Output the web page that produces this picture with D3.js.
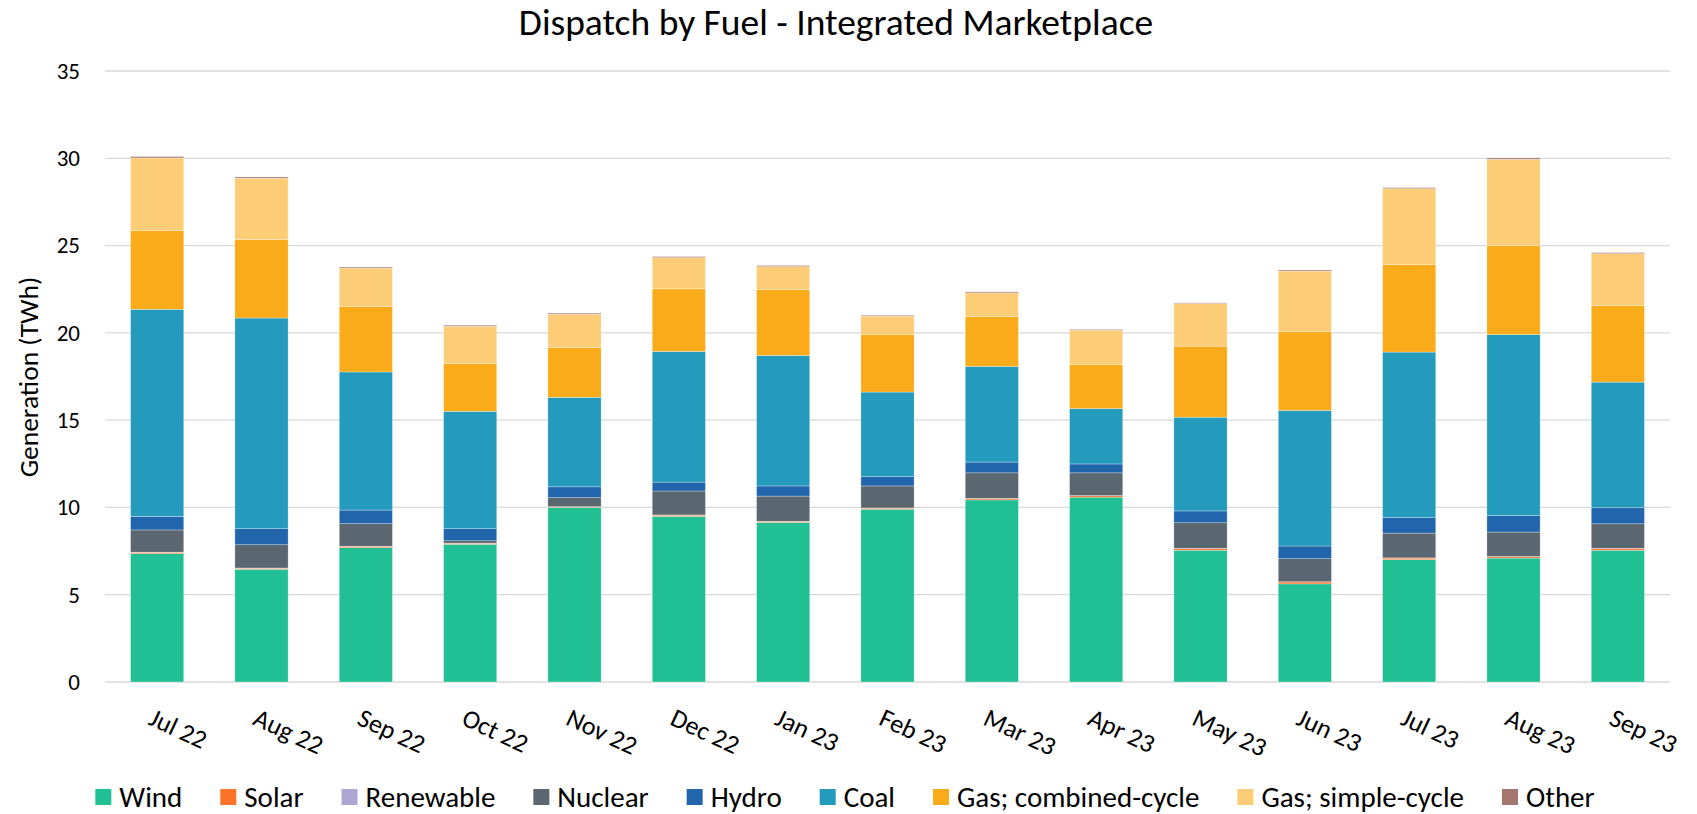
<!DOCTYPE html>
<html>
<head>
<meta charset="utf-8">
<script src="https://cdn.jsdelivr.net/npm/d3@7"></script>
<style>
  body { margin: 0; background: #fff; }
  svg { display: block; font-family: Carlito, Calibri, Lato, sans-serif; }
</style>
</head>
<body>
<svg width="1697" height="814"></svg>
<script>
const months = ["Jul 22", "Aug 22", "Sep 22", "Oct 22", "Nov 22", "Dec 22", "Jan 23",
  "Feb 23", "Mar 23", "Apr 23", "May 23", "Jun 23", "Jul 23", "Aug 23", "Sep 23"];

// TWh per month, bottom to top of the stack
const wind      = [7.35, 6.46, 7.69, 7.89, 10.0, 9.49, 9.14, 9.90, 10.43, 10.59, 7.55, 5.62, 7.01, 7.10, 7.55];
const solar     = [0.08, 0.06, 0.08, 0.06, 0.03, 0.07, 0.06, 0.06, 0.08, 0.08, 0.10, 0.11, 0.09, 0.08, 0.10];
const renewable = [0.01, 0.01, 0.01, 0.01, 0.01, 0.01, 0.01, 0.01, 0.01, 0.01, 0.01, 0.01, 0.01, 0.01, 0.01];
const nuclear   = [1.27, 1.33, 1.29, 0.13, 0.52, 1.37, 1.44, 1.26, 1.46, 1.30, 1.46, 1.32, 1.42, 1.40, 1.40];
const hydro     = [0.78, 0.92, 0.78, 0.69, 0.62, 0.51, 0.58, 0.53, 0.62, 0.51, 0.68, 0.73, 0.88, 0.94, 0.92];
const coal      = [11.86, 12.07, 7.91, 6.73, 5.13, 7.49, 7.48, 4.85, 5.48, 3.17, 5.37, 7.77, 9.49, 10.37, 7.20];
const gasCC     = [4.50, 4.50, 3.76, 2.74, 2.84, 3.58, 3.78, 3.31, 2.86, 2.54, 4.07, 4.50, 5.01, 5.09, 4.39];
const gasSC     = [4.17, 3.51, 2.19, 2.13, 1.92, 1.79, 1.31, 1.04, 1.35, 1.96, 2.44, 3.48, 4.35, 4.95, 2.97];
const other     = [0.08, 0.07, 0.06, 0.06, 0.06, 0.06, 0.06, 0.05, 0.06, 0.04, 0.04, 0.06, 0.06, 0.08, 0.06];

const seriesNames = ["Wind", "Solar", "Renewable", "Nuclear", "Hydro", "Coal",
  "Gas; combined-cycle", "Gas; simple-cycle", "Other"];
const seriesValues = [wind, solar, renewable, nuclear, hydro, coal, gasCC, gasSC, other];
const seriesColors = ["#20c094", "#fb7428", "#ada6d2", "#5a6670", "#2166ac", "#249abc",
  "#faab19", "#fdcc76", "#a57570"];
const yTicks = [0, 5, 10, 15, 20, 25, 30, 35];

const width = 1697;
const height = 814;
const margin = { top: 71, right: 27, bottom: 132, left: 105 };

const svg = d3.select("svg");

// table the stack wants: one row per month
const rows = months.map((m, i) => {
  const row = { month: m };
  seriesNames.forEach((s, j) => { row[s] = seriesValues[j][i]; });
  return row;
});
const stacked = d3.stack().keys(seriesNames)(rows);

const xScale = d3.scaleBand()
  .domain(months)
  .range([margin.left, width - margin.right])
  .paddingInner(0.49)
  .paddingOuter(0.245);

const yScale = d3.scaleLinear()
  .domain([0, 35])
  .range([height - margin.bottom, margin.top]);

const color = d3.scaleOrdinal().domain(seriesNames).range(seriesColors);

// gridlines
svg.append("g")
  .selectAll("line")
  .data(yTicks)
  .join("line")
  .attr("x1", margin.left)
  .attr("x2", width - margin.right)
  .attr("y1", d => yScale(d))
  .attr("y2", d => yScale(d))
  .attr("stroke", "#d9d9d9")
  .attr("stroke-width", 1.3);

// y axis labels
const yAxis = d3.axisLeft(yScale).tickValues(yTicks).tickSize(0).tickPadding(0);
svg.append("g")
  .attr("transform", `translate(80, 0)`)
  .call(yAxis)
  .call(g => g.select(".domain").remove())
  .selectAll("text")
  .attr("font-size", 23)
  .attr("font-family", "Carlito, Calibri, Lato, sans-serif")
  .attr("fill", "#000");

// bars
svg.append("g")
  .selectAll("g")
  .data(stacked)
  .join("g")
  .attr("fill", d => color(d.key))
  .selectAll("rect")
  .data(d => d)
  .join("rect")
  .attr("x", d => xScale(d.data.month))
  .attr("width", xScale.bandwidth())
  .attr("y", d => yScale(d[1]))
  .attr("height", d => yScale(d[0]) - yScale(d[1]))
  .attr("stroke", "#fff")
  .attr("stroke-width", 0.5)
  .attr("stroke-opacity", 0.6);

// x axis labels, rotated
const xAxis = d3.axisBottom(xScale).tickSize(0).tickPadding(0);
svg.append("g")
  .attr("transform", `translate(0, ${yScale(0)})`)
  .call(xAxis)
  .call(g => g.select(".domain").remove())
  .selectAll("text")
  .attr("font-size", 26)
  .attr("font-family", "Carlito, Calibri, Lato, sans-serif")
  .attr("fill", "#000")
  .attr("text-anchor", "start")
  .attr("y", 0)
  .attr("dy", 0)
  .attr("transform", "translate(-10, 42) rotate(25)");

// axis title
svg.append("text")
  .attr("transform", `translate(38, 377) rotate(-90)`)
  .attr("text-anchor", "middle")
  .attr("font-size", 27.5)
  .attr("fill", "#000")
  .text("Generation (TWh)");

// chart title
svg.append("text")
  .attr("x", 836)
  .attr("y", 35)
  .attr("text-anchor", "middle")
  .attr("font-size", 37.5)
  .attr("fill", "#000")
  .text("Dispatch by Fuel - Integrated Marketplace");

// legend, laid out from measured text widths and centred
const legend = svg.append("g");
const items = legend.selectAll("g")
  .data(seriesNames)
  .join("g");
items.append("rect")
  .attr("width", 16)
  .attr("height", 16)
  .attr("y", -8)
  .attr("fill", d => color(d));
items.append("text")
  .attr("x", 24)
  .attr("dy", "0.35em")
  .attr("font-size", 29)
  .attr("fill", "#000")
  .text(d => d);

let offset = 0;
items.each(function() {
  const w = d3.select(this).select("text").node().getComputedTextLength();
  d3.select(this).attr("transform", `translate(${offset}, 0)`);
  offset += 24 + w + 38;
});
const legendWidth = offset - 38;
legend.attr("transform", `translate(${845 - legendWidth / 2}, 797)`);
</script>
</body>
</html>
